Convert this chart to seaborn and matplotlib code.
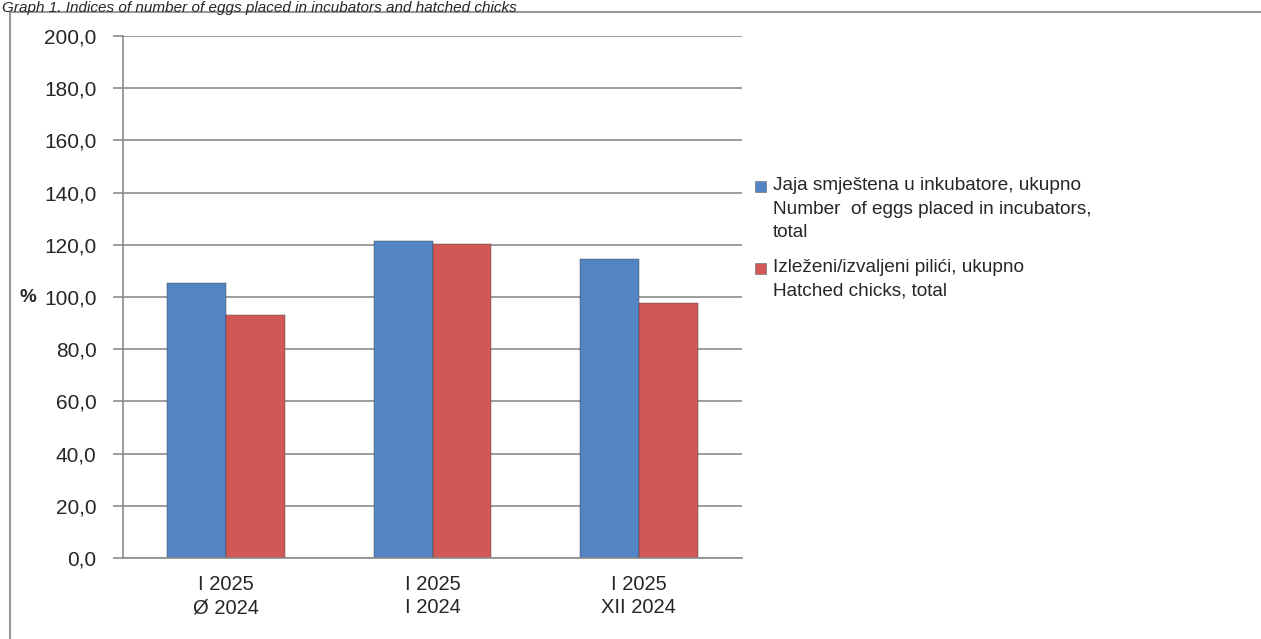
import pandas as pd
import seaborn as sns
import matplotlib.pyplot as plt
from matplotlib.patches import Rectangle
from matplotlib.lines import Line2D

# Chart data
categories = ['I 2025\nØ 2024', 'I 2025\nI 2024', 'I 2025\nXII 2024']
eggs = [105.4, 121.5, 114.6]
chicks = [93.1, 120.2, 97.8]
series_names = [
    'Jaja smještena u inkubatore, ukupno\nNumber  of eggs placed in incubators,\ntotal',
    'Izleženi/izvaljeni pilići, ukupno\nHatched chicks, total',
]
colors = ['#5384C4', '#D25855']
yticks = [0, 20, 40, 60, 80, 100, 120, 140, 160, 180, 200]

df = pd.DataFrame({
    'category': categories * 2,
    'value': eggs + chicks,
    'series': [series_names[0]] * 3 + [series_names[1]] * 3,
})

sns.set_style('white')
plt.rcParams['font.family'] = ['Liberation Sans', 'DejaVu Sans']

fig = plt.figure(figsize=(12.61, 6.39), dpi=100)
ax = fig.add_axes([123 / 1261, 1 - 558 / 639, (742 - 123) / 1261, (558 - 36) / 639])

sns.barplot(data=df, x='category', y='value', hue='series', palette=colors,
            width=0.57, ax=ax, legend=False, edgecolor='#3a3a3a', linewidth=0.3,
            saturation=1)

ax.set_xlim(-0.5, 2.5)
ax.set_ylim(0, 200)
ax.set_yticks(yticks)
ax.set_yticklabels([f'{v:.1f}'.replace('.', ',') for v in yticks], fontsize=15)
ax.yaxis.grid(True, color='#8c8c8c', linewidth=1.2)
ax.set_axisbelow(True)

ax.set_xticks(range(len(categories)))
ax.set_xticklabels(categories, fontsize=14.5, linespacing=1.3)
ax.set_xticks([-0.5, 0.5, 1.5, 2.5], minor=True)
ax.tick_params(axis='x', which='major', length=0, pad=12)
ax.tick_params(axis='x', which='minor', length=7, color='#8c8c8c', width=1.2, direction='out')
ax.tick_params(axis='y', length=7, color='#8c8c8c', width=1.2, direction='out', pad=12, left=True)

ax.set_xlabel('')
ax.set_ylabel('%', fontsize=13.5, fontweight='bold', rotation=0, labelpad=12, va='center')

for side in ['top', 'right']:
    ax.spines[side].set_visible(False)
for side in ['left', 'bottom']:
    ax.spines[side].set_color('#8c8c8c')
    ax.spines[side].set_linewidth(1.2)

# Legend drawn by hand so each marker sits on the first text line
legend_y = [186, 268]
for name, col, ly in zip(series_names, colors, legend_y):
    fig.patches.append(Rectangle((755 / 1261, 1 - (ly + 6) / 639), 11 / 1261, 11 / 639,
                                 transform=fig.transFigure, facecolor=col,
                                 edgecolor='#777777', linewidth=0.5))
    fig.text(773 / 1261, 1 - (ly - 9) / 639, name, fontsize=13.7, va='top',
             ha='left', linespacing=1.5)

# Title, sitting at the top edge as in the source
fig.text(2 / 1261, 1 - 1 / 639,
         'Graph 1. Indices of number of eggs placed in incubators and hatched chicks',
         fontsize=11, style='italic', va='top', ha='left')

# Frame lines
fig.add_artist(Line2D([10 / 1261, 1], [1 - 11.5 / 639, 1 - 11.5 / 639],
                      transform=fig.transFigure, color='#9a9a9a', linewidth=1.5))
fig.add_artist(Line2D([9.5 / 1261, 9.5 / 1261], [1 - 11.5 / 639, 0],
                      transform=fig.transFigure, color='#9a9a9a', linewidth=1.5))

fig.savefig('out.png', dpi=100)
